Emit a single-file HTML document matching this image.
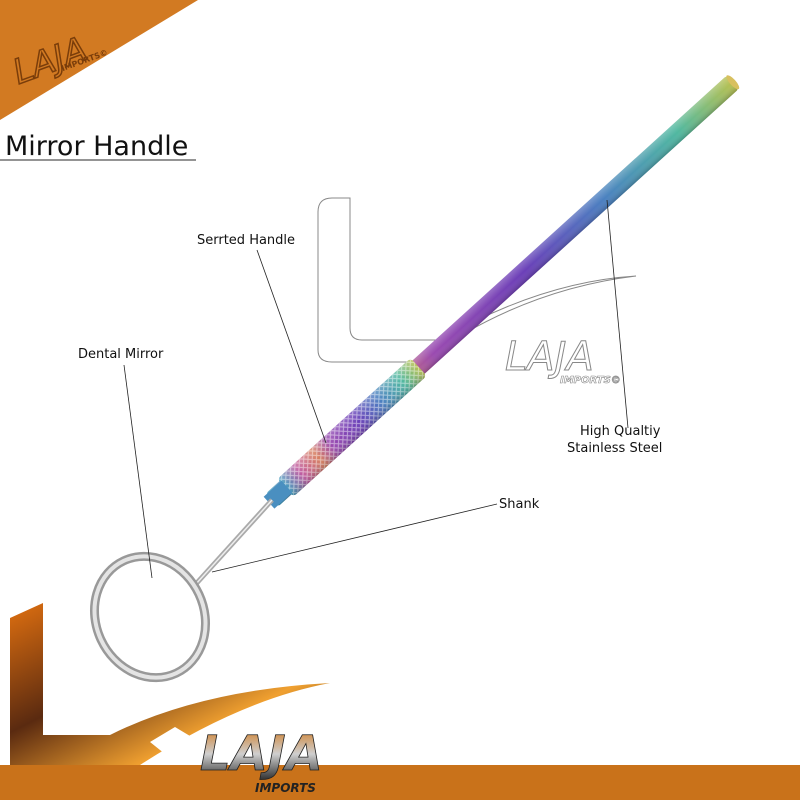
<!DOCTYPE html>
<html><head><meta charset="utf-8"><style>
html,body{margin:0;padding:0;background:#fff;}
svg{display:block;}
text{font-family:"DejaVu Sans","Liberation Sans",sans-serif;}
</style></head><body>
<svg width="800" height="800" viewBox="0 0 800 800" xmlns="http://www.w3.org/2000/svg">
<defs>
<linearGradient id="rb" x1="0" y1="0" x2="1" y2="0">
<stop offset="0" stop-color="#3aa0c0"/><stop offset="0.12" stop-color="#c05aa0"/><stop offset="0.25" stop-color="#d88060"/><stop offset="0.35" stop-color="#9a4ab0"/><stop offset="0.55" stop-color="#6a3fb8"/><stop offset="0.72" stop-color="#4a80c0"/><stop offset="0.88" stop-color="#50b8a0"/><stop offset="1" stop-color="#b8c050"/>
</linearGradient>
<linearGradient id="rbv" x1="0" y1="0" x2="0" y2="1">
<stop offset="0" stop-color="#fff" stop-opacity="0.25"/><stop offset="0.5" stop-color="#fff" stop-opacity="0"/><stop offset="1" stop-color="#000" stop-opacity="0.2"/>
</linearGradient>
<pattern id="kn" width="6" height="6" patternUnits="userSpaceOnUse">
<path d="M0 0L6 6M6 0L0 6" stroke="#fff" stroke-opacity="0.5" stroke-width="1"/>
</pattern>
<linearGradient id="fire" x1="0" y1="0" x2="1" y2="1">
<stop offset="0" stop-color="#e07010"/><stop offset="0.4" stop-color="#5a2a10"/><stop offset="0.7" stop-color="#f0a030"/><stop offset="1" stop-color="#3a2a20"/>
</linearGradient>
<linearGradient id="lg" x1="0" y1="0" x2="0" y2="1">
<stop offset="0" stop-color="#d07a20"/><stop offset="0.5" stop-color="#cfcfcf"/><stop offset="1" stop-color="#222"/>
</linearGradient>
</defs>
<polygon points="0,0 198,0 0,120" fill="#d27a22"/>
<text x="12" y="72" font-size="34" font-style="italic" fill="none" stroke="#7a3d0a" stroke-width="1.5" transform="rotate(-20 50 60)">LAJA</text>
<text x="62" y="72" font-size="8" font-weight="bold" fill="#7a3d0a" transform="rotate(-20 60 70)">IMPORTS©</text>
<text x="5" y="155" font-size="27" fill="#111">Mirror Handle</text>
<line x1="0" y1="160" x2="196" y2="160" stroke="#555" stroke-width="1.2"/>
<path d="M350 198 L332 198 Q318 198 318 212 L318 350 Q318 362 332 362 L420 362 Q520 290 636 276 Q540 282 440 340 L362 340 Q350 340 350 328 Z" fill="none" stroke="#888" stroke-width="1"/>
<text x="505" y="370" font-size="40" font-style="italic" fill="none" stroke="#888" stroke-width="1">LAJA</text>
<text x="560" y="383" font-size="10" font-style="italic" font-weight="bold" fill="none" stroke="#888" stroke-width="0.6">IMPORTS©</text>
<g transform="translate(272 500) rotate(-42.2)">
<rect x="0" y="-9" width="622" height="18" rx="3" fill="url(#rb)"/>
<rect x="0" y="-9" width="622" height="18" rx="3" fill="url(#rbv)"/>
<rect x="18" y="-12" width="180" height="24" rx="4" fill="url(#rb)"/>
<rect x="18" y="-12" width="180" height="24" rx="4" fill="url(#kn)"/>
<rect x="18" y="-12" width="180" height="24" rx="4" fill="url(#rbv)"/>
<rect x="-4" y="-8" width="24" height="16" fill="#4a8fc0"/>
<ellipse cx="622" cy="0" rx="3" ry="9" fill="#d8c060"/>
</g>
<line x1="272" y1="500" x2="195" y2="585" stroke="#aaa" stroke-width="5"/>
<line x1="272" y1="500" x2="195" y2="585" stroke="#eee" stroke-width="1.5"/>
<ellipse cx="150" cy="617" rx="54" ry="62" transform="rotate(-25 150 617)" fill="none" stroke="#999" stroke-width="9"/>
<ellipse cx="150" cy="617" rx="54" ry="62" transform="rotate(-25 150 617)" fill="none" stroke="#e4e4e4" stroke-width="4"/>
<path d="M10 618 L43 603 L43 735 L110 735 Q200 690 330 683 Q240 700 140 765 L10 765 Z" fill="url(#fire)"/>
<path d="M150 742 L175 727 L200 742 L175 762 Z" fill="#fff"/>
<rect x="0" y="765" width="800" height="35" fill="#c9721a"/>
<text x="200" y="770" font-size="48" font-style="italic" font-weight="bold" fill="url(#lg)" stroke="#222" stroke-width="0.8">LAJA</text>
<text x="255" y="792" font-size="12" font-style="italic" font-weight="bold" fill="#222">IMPORTS</text>
<g font-size="13" fill="#111">
<text x="197" y="244">Serrted Handle</text>
<text x="78" y="358">Dental Mirror</text>
<text x="580" y="435">High Qualtiy</text>
<text x="567" y="452">Stainless Steel</text>
<text x="499" y="508">Shank</text>
</g>
<g stroke="#222" stroke-width="0.8">
<line x1="257" y1="250" x2="326" y2="443"/>
<line x1="124" y1="365" x2="152" y2="578"/>
<line x1="628" y1="428" x2="607" y2="200"/>
<line x1="497" y1="504" x2="212" y2="572"/>
</g>
</svg>
</body></html>
